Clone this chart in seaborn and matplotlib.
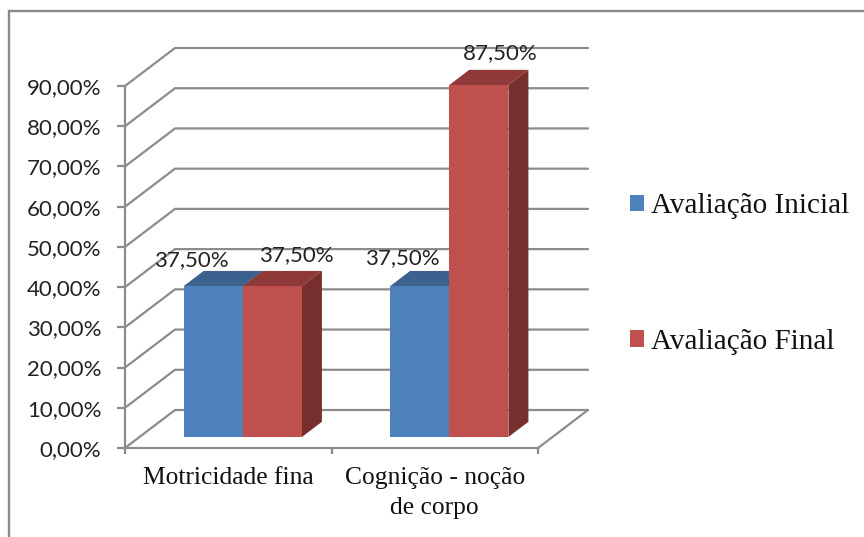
import matplotlib
matplotlib.use("Agg")
import matplotlib.pyplot as plt
from matplotlib.patches import Polygon, Rectangle
from matplotlib.lines import Line2D
from matplotlib.ticker import FuncFormatter
import pandas as pd
import seaborn as sns

categories = ["Motricidade fina", "Cognição - noção\nde corpo"]
series_names = ["Avaliação Inicial", "Avaliação Final"]
inicial = [37.5, 37.5]
final = [37.5, 87.5]
yticks = [0, 10, 20, 30, 40, 50, 60, 70, 80, 90]

df = pd.DataFrame({
    "cat": categories * 2,
    "serie": [series_names[0]] * 2 + [series_names[1]] * 2,
    "valor": inicial + final,
})

W, H = 864, 537
sns.set_theme(style="white")
fig = plt.figure(figsize=(W / 100, H / 100), dpi=100, facecolor="white")
ax = fig.add_axes([125 / W, 1 - 448 / H, 413 / W, 362 / H])

GRID = "#8c8c8c"
BLUE, RED = "#4F81BD", "#C0504D"
sns.barplot(data=df, x="cat", y="valor", hue="serie", palette=[BLUE, RED],
            saturation=1, width=0.573, gap=0, ax=ax, legend=False, zorder=3)
ax.set_xlim(-0.5, 1.5)
ax.set_ylim(0, 90)

# oblique projection: depth 0..1 maps to these data-unit shifts
DX = 50 / 206.5
DY = 38 / (362 / 90)
D_FRONT, D_BACK = 0.29, 0.69

x0, x1 = ax.get_xlim()
for v in yticks:
    ax.plot([x0, x0 + DX, x1 + DX], [v, v + DY, v + DY], color=GRID, lw=1.6,
            clip_on=False, zorder=1, solid_joinstyle="miter")
ax.plot([x1, x1 + DX], [0, DY], color=GRID, lw=1.6, clip_on=False, zorder=1)

TOP = {BLUE: "#3C618F", RED: "#8F3A38"}
SIDE = {BLUE: "#3A5F8E", RED: "#772F2D"}
bars = []
for cont, col in zip(ax.containers, [BLUE, RED]):
    for p in cont:
        bars.append((p, col))
for p, col in bars:
    x, w, h = p.get_x(), p.get_width(), p.get_height()
    a = x + D_FRONT * DX
    b = a + w
    y0 = D_FRONT * DY
    t = y0 + h
    p.set_xy((a, y0))
    p.set_clip_on(False)
    p.set_linewidth(0)
    sx = (D_BACK - D_FRONT) * DX
    sy = (D_BACK - D_FRONT) * DY
    ax.add_patch(Polygon([(a, t), (b, t), (b + sx, t + sy), (a + sx, t + sy)],
                         closed=True, fc=TOP[col], lw=0, zorder=2.5, clip_on=False))
    ax.add_patch(Polygon([(b, y0), (b + sx, y0 + sy), (b + sx, t + sy), (b, t)],
                         closed=True, fc=SIDE[col], lw=0, zorder=2.5, clip_on=False))

# data labels (order: inicial cat0, inicial cat1, final cat0, final cat1)
label_offsets = [(-22, 26), (-17, 28), (24, 31), (21, 32)]
vals = inicial + final
for (p, _), v, off in zip(bars, vals, label_offsets):
    ax.annotate(f"{v:.2f}%".replace(".", ","),
                (p.get_x() + p.get_width() / 2, p.get_y() + p.get_height()),
                xytext=(off[0] * 0.72, off[1] * 0.72), textcoords="offset points",
                ha="center", va="center", fontsize=16, family="Lato",
                color="#222222", zorder=5, annotation_clip=False)

# axes
for s in ["top", "right"]:
    ax.spines[s].set_visible(False)
for s in ["left", "bottom"]:
    ax.spines[s].set_color(GRID)
    ax.spines[s].set_linewidth(1.6)
ax.set_xlabel("")
ax.set_ylabel("")
ax.set_yticks(yticks)
ax.yaxis.set_major_formatter(FuncFormatter(lambda v, _: f"{v:.2f}%".replace(".", ",")))
ax.tick_params(axis="y", left=True, length=6, width=1.6, color=GRID, pad=11,
               labelsize=16, labelcolor="#222222")
for t in ax.get_yticklabels():
    t.set_family("Lato")
ax.set_xticks([-0.5, 0.5, 1.5], ["", "", ""])
ax.set_xticks([0, 1], categories, minor=True)
ax.tick_params(axis="x", which="major", bottom=True, length=4.5, width=1.6, color=GRID)
ax.tick_params(axis="x", which="minor", bottom=False, length=0, pad=14,
               labelsize=18.4, labelcolor="#111111")
for t in ax.get_xticklabels(minor=True):
    t.set_family("Liberation Serif")
    t.set_linespacing(1.42)

# legend
handles = [Rectangle((0, 0), 1, 1, fc=c, lw=0) for c in (BLUE, RED)]
leg = fig.legend(handles, series_names, loc="center left",
                 bbox_to_anchor=(630 / W, 1 - 274 / H), frameon=False,
                 prop={"family": "Liberation Serif", "size": 21},
                 handlelength=0.48, handleheight=0.48, handletextpad=0.24,
                 labelspacing=3.76, borderpad=0, borderaxespad=0)
for t in leg.get_texts():
    t.set_color("#111111")

# outer frame: only left and top edges fall inside the picture
FRAME = "#8a8a8a"
fig.add_artist(Line2D([9 / W, 9 / W, 1], [0, 1 - 11 / H, 1 - 11 / H],
                      transform=fig.transFigure, color=FRAME, lw=1.7,
                      solid_joinstyle="miter"))
fig.savefig("out.png", dpi=100, facecolor="white")
